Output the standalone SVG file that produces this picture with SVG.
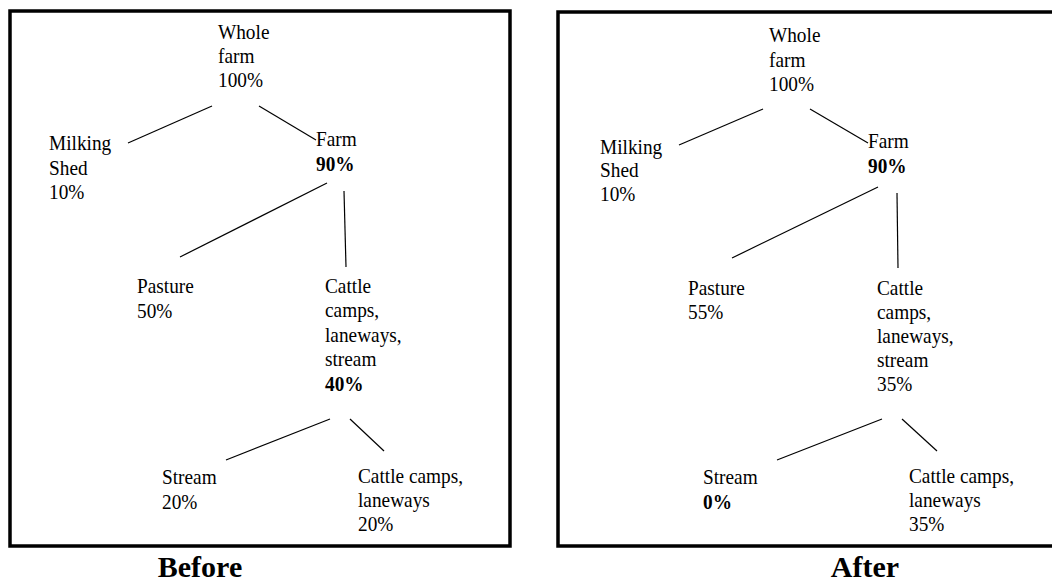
<svg xmlns="http://www.w3.org/2000/svg" width="1052" height="584" viewBox="0 0 1052 584">
<style>
.frame{fill:none;stroke:#000;stroke-width:3.5}
.lbl{font-family:"Liberation Serif","Times New Roman",serif;font-size:21px;fill:#000}
.b{font-weight:bold}
.cap{font-family:"Liberation Serif","Times New Roman",serif;font-size:30px;font-weight:bold;fill:#000;text-anchor:middle}
.conn line{stroke:#000;stroke-width:1.2}
</style>
<rect width="1052" height="584" fill="#fff"/>
<rect class="frame" x="10" y="11" width="500" height="535"/>
<rect class="frame" x="558" y="12" width="510" height="534"/>

<!-- Before panel -->
<g id="before-whole" transform="translate(218 0) scale(0.92 1)"><text class="lbl"><tspan x="0" y="39">Whole</tspan><tspan x="0" y="63">farm</tspan><tspan x="0" y="87">100%</tspan></text></g>
<g id="before-milking" transform="translate(49 0) scale(0.92 1)"><text class="lbl"><tspan x="0" y="150">Milking</tspan><tspan x="0" y="175">Shed</tspan><tspan x="0" y="199">10%</tspan></text></g>
<g id="before-farm" transform="translate(316 0) scale(0.92 1)"><text class="lbl"><tspan x="0" y="146">Farm</tspan><tspan x="0" y="171" class="b">90%</tspan></text></g>
<g id="before-pasture" transform="translate(137 0) scale(0.92 1)"><text class="lbl"><tspan x="0" y="293">Pasture</tspan><tspan x="0" y="318">50%</tspan></text></g>
<g id="before-cattle" transform="translate(325 0) scale(0.92 1)"><text class="lbl"><tspan x="0" y="293">Cattle</tspan><tspan x="0" y="317">camps,</tspan><tspan x="0" y="342">laneways,</tspan><tspan x="0" y="366">stream</tspan><tspan x="0" y="391" class="b">40%</tspan></text></g>
<g id="before-stream" transform="translate(162 0) scale(0.92 1)"><text class="lbl"><tspan x="0" y="484">Stream</tspan><tspan x="0" y="509">20%</tspan></text></g>
<g id="before-camps" transform="translate(358 0) scale(0.92 1)"><text class="lbl"><tspan x="0" y="483">Cattle camps,</tspan><tspan x="0" y="507">laneways</tspan><tspan x="0" y="531">20%</tspan></text></g>
<text id="caption-before" class="cap" x="200" y="577">Before</text>

<!-- After panel -->
<g id="after-whole" transform="translate(769 0) scale(0.92 1)"><text class="lbl"><tspan x="0" y="42">Whole</tspan><tspan x="0" y="67">farm</tspan><tspan x="0" y="91">100%</tspan></text></g>
<g id="after-milking" transform="translate(600 0) scale(0.92 1)"><text class="lbl"><tspan x="0" y="154">Milking</tspan><tspan x="0" y="177">Shed</tspan><tspan x="0" y="201">10%</tspan></text></g>
<g id="after-farm" transform="translate(868 0) scale(0.92 1)"><text class="lbl"><tspan x="0" y="148">Farm</tspan><tspan x="0" y="173" class="b">90%</tspan></text></g>
<g id="after-pasture" transform="translate(688 0) scale(0.92 1)"><text class="lbl"><tspan x="0" y="295">Pasture</tspan><tspan x="0" y="319">55%</tspan></text></g>
<g id="after-cattle" transform="translate(877 0) scale(0.92 1)"><text class="lbl"><tspan x="0" y="295">Cattle</tspan><tspan x="0" y="319">camps,</tspan><tspan x="0" y="343">laneways,</tspan><tspan x="0" y="367">stream</tspan><tspan x="0" y="391">35%</tspan></text></g>
<g id="after-stream" transform="translate(703 0) scale(0.92 1)"><text class="lbl"><tspan x="0" y="484">Stream</tspan><tspan x="0" y="509" class="b">0%</tspan></text></g>
<g id="after-camps" transform="translate(909 0) scale(0.92 1)"><text class="lbl"><tspan x="0" y="483">Cattle camps,</tspan><tspan x="0" y="507">laneways</tspan><tspan x="0" y="531">35%</tspan></text></g>
<text id="caption-after" class="cap" x="865" y="577">After</text>

<g id="connectors" class="conn">
<line x1="212" y1="106" x2="128" y2="143"/>
<line x1="259" y1="106" x2="316" y2="140"/>
<line x1="327" y1="183" x2="180" y2="257"/>
<line x1="344" y1="191" x2="346" y2="267"/>
<line x1="330" y1="419" x2="226" y2="460"/>
<line x1="350" y1="419" x2="384" y2="451"/>
<line x1="763" y1="109" x2="679" y2="145"/>
<line x1="810" y1="109" x2="868" y2="143"/>
<line x1="878" y1="187" x2="732" y2="258"/>
<line x1="897" y1="193" x2="898" y2="268"/>
<line x1="882" y1="419" x2="777" y2="460"/>
<line x1="902" y1="419" x2="937" y2="451"/>
</g>
</svg>
